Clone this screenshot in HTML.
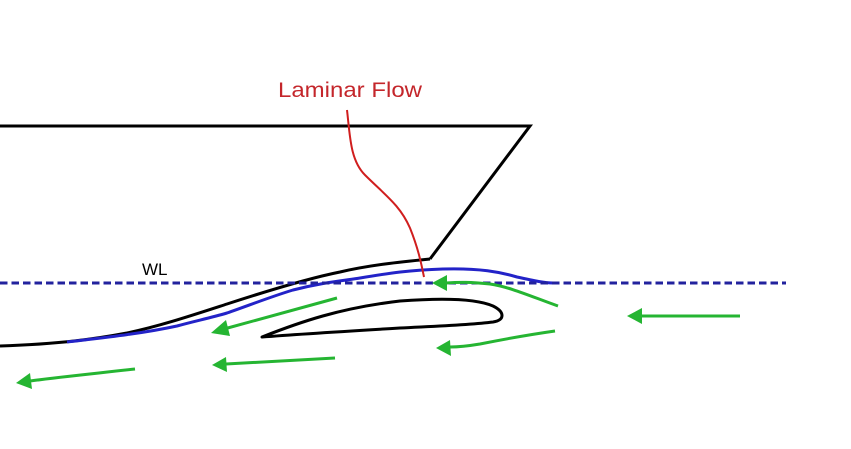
<!DOCTYPE html>
<html><head><meta charset="utf-8"><style>
html,body{margin:0;padding:0;background:#fff;}
svg{display:block;}
</style></head><body>
<svg width="851" height="449" viewBox="0 0 851 449" xmlns="http://www.w3.org/2000/svg">
<rect width="851" height="449" fill="#fff"/>
<!-- hull -->
<path d="M0,126 L530,126 L430,259" fill="none" stroke="#000" stroke-width="3" stroke-linejoin="miter"/>
<path d="M430,259 C400,262 370,265 340,272 C315,277 270,290 227,304 C190,316 160,326 127,333 C95,339 60,344 0,346" fill="none" stroke="#000" stroke-width="3"/>
<!-- blue flow line -->
<path d="M67,342 C100,338 140,334 177,326 C195,321 210,318 227,313 C250,305 270,297 293,290 C320,283 340,281 360,278 C390,273 410,270 443,269 C480,268 500,272 517,277 C535,281 545,283 553,283" fill="none" stroke="#2323c8" stroke-width="3"/>
<!-- WL dashed -->
<line x1="0" y1="283" x2="786" y2="283" stroke="#22229e" stroke-width="3" stroke-dasharray="7.5,4"/>
<text x="142" y="275" font-family="Liberation Sans, sans-serif" font-size="17" fill="#000">WL</text>
<!-- foil -->
<path d="M262,337 C300,322 340,308 400,301 C440,298 475,298 493,306 C505,312 505,320 493,322 C470,325 440,326 400,328 C350,331 300,334 262,337 Z" fill="none" stroke="#000" stroke-width="3" stroke-linejoin="round"/>
<!-- red laminar flow -->
<path d="M347,110 C350,135 350,160 365,175 C385,195 400,205 410,228 C418,248 421,262 424,277" fill="none" stroke="#d01e1e" stroke-width="2"/>
<text x="278" y="97" font-family="Liberation Sans, sans-serif" font-size="21" fill="#c4262b" textLength="144" lengthAdjust="spacingAndGlyphs">Laminar Flow</text>
<!-- green arrows -->
<g fill="none" stroke="#25b532" stroke-width="3">
<path d="M337,298 L224,329"/>
<path d="M335,358 L226,364"/>
<path d="M135,369 C100,373 60,377 30,381"/>
<path d="M558,306 C530,296 510,287 490,284 C470,282 460,282 446,283"/>
<path d="M555,331 C520,336 500,340 480,344 C468,346 460,347 450,347"/>
<path d="M740,316 L640,316"/>
</g>
<g fill="#25b532">
<polygon points="211,333 226,320 230,336"/>
<polygon points="212,365 226,357 227,372"/>
<polygon points="16,383 30,373 32,389"/>
<polygon points="432,283 447,275 447,291"/>
<polygon points="436,348 450,340 451,356"/>
<polygon points="627,316 642,308 642,324"/>
</g>
</svg>
</body></html>
